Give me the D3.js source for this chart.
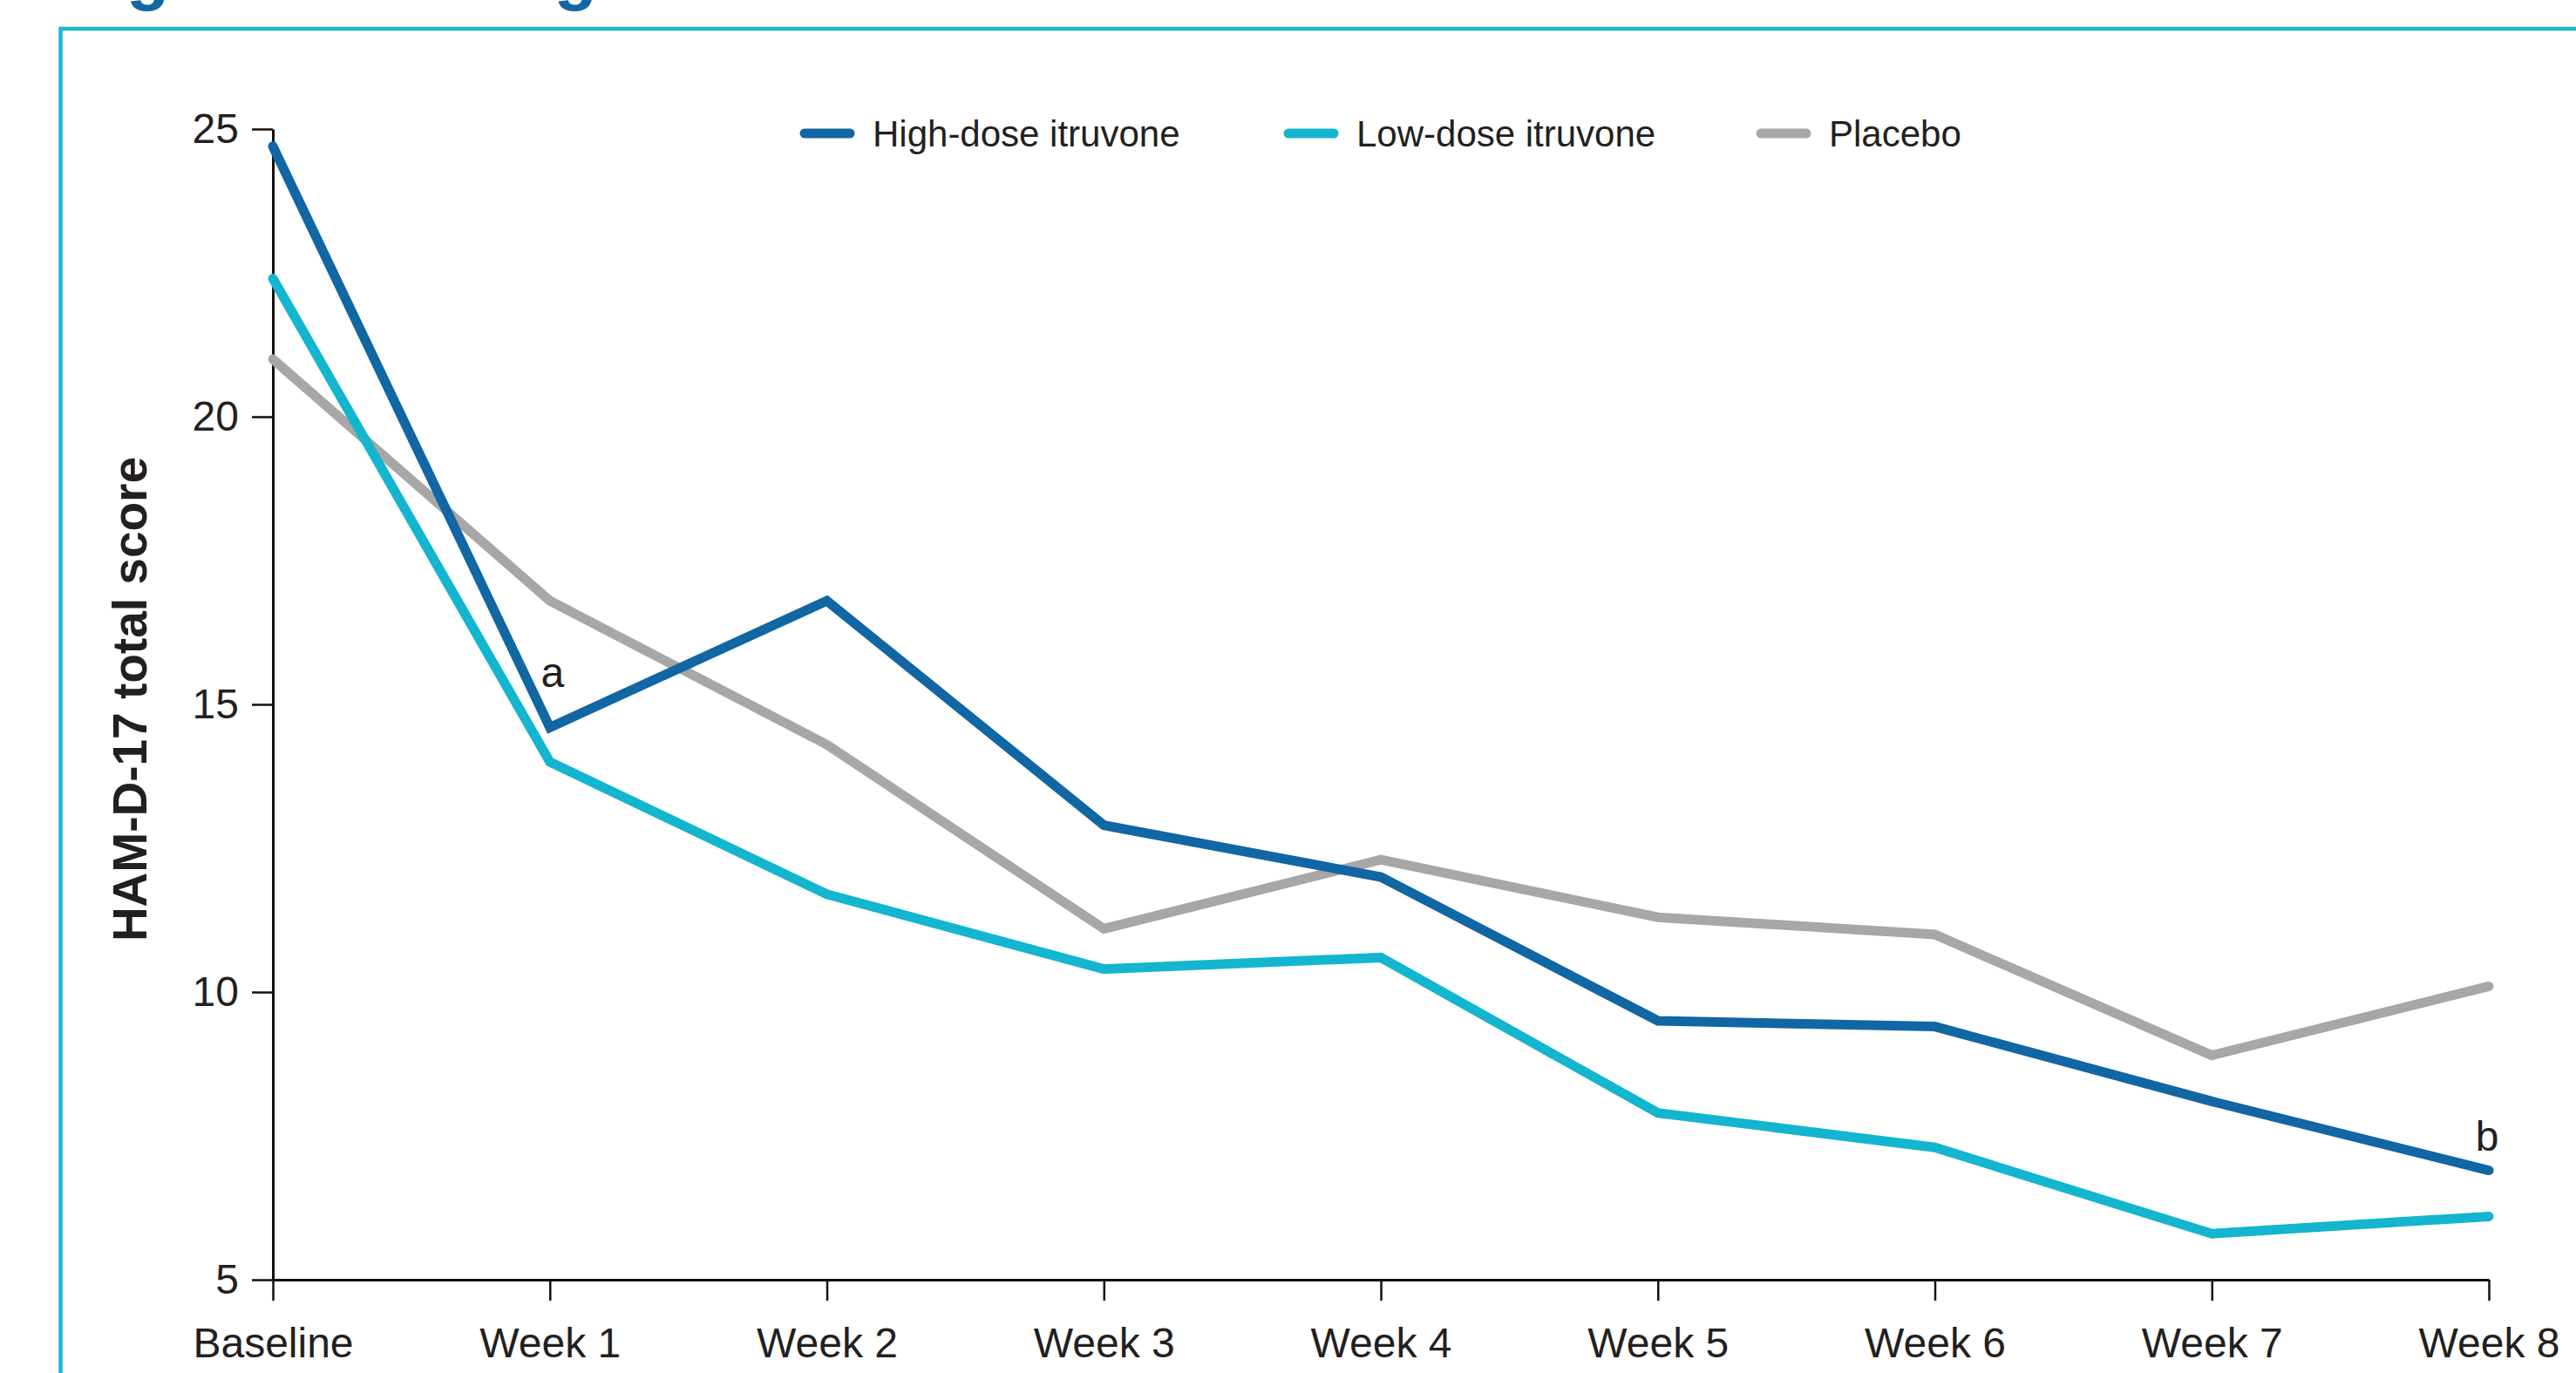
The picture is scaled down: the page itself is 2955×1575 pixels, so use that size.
<!DOCTYPE html>
<html>
<head>
<meta charset="utf-8">
<script src="https://cdn.jsdelivr.net/npm/d3@7/dist/d3.min.js"></script>
<style>
  html, body { margin: 0; padding: 0; background: #ffffff; }
  svg { display: block; }
  text { font-family: "Liberation Sans", Arial, Helvetica, sans-serif; fill: #231f20; }
</style>
</head>
<body>
<svg id="chart" width="2955" height="1575"></svg>
<script>
// Visits along the x axis
const categories = ["Baseline", "Week 1", "Week 2", "Week 3", "Week 4", "Week 5", "Week 6", "Week 7", "Week 8"];

// Mean HAM-D-17 total score per visit
const highDose = [24.7, 14.6, 16.8, 12.9, 12.0, 9.5, 9.4, 8.1, 6.9];
const lowDose  = [22.4, 14.0, 11.7, 10.4, 10.6, 7.9, 7.3, 5.8, 6.1];
const placebo  = [21.0, 16.8, 14.3, 11.1, 12.3, 11.3, 11.0, 8.9, 10.1];

const seriesNames  = ["High-dose itruvone", "Low-dose itruvone", "Placebo"];
const seriesColors = ["#1166a4", "#13b5cf", "#a7a7a7"];
const yTicks = [5, 10, 15, 20, 25];

// Footnote markers attached to points of the high-dose series
const noteLabels  = ["a", "b"];
const noteIndices = [1, 8];

const svg = d3.select("#chart");
const W = 2955, H = 1575;

svg.append("rect").attr("width", W).attr("height", H).attr("fill", "#ffffff");

// Figure heading, mostly running off the top edge
svg.append("text")
  .attr("x", 73).attr("y", -4)
  .style("font-weight", "bold")
  .style("font-size", "81px")
  .style("fill", "#1466a5")
  .text("Figure 1. Change in HAM-D-17 total score");

// Panel frame (top and left rules)
svg.append("path")
  .attr("d", "M69.5," + H + "V33H" + W)
  .attr("fill", "none")
  .attr("stroke", "#1ab5d0")
  .attr("stroke-width", 4.5);

// Scales
const x = d3.scalePoint().domain(categories).range([313, 2855]);
const y = d3.scaleLinear().domain([5, 25]).range([1468, 148]);

// Axes
const yAxis = svg.append("g")
  .attr("transform", "translate(" + x(categories[0]) + ",0)")
  .call(d3.axisLeft(y).tickValues(yTicks).tickSize(24).tickPadding(15).tickSizeOuter(0));

const xAxis = svg.append("g")
  .attr("transform", "translate(0," + y(5) + ")")
  .call(d3.axisBottom(x).tickSize(24).tickPadding(31).tickSizeOuter(0));

[yAxis, xAxis].forEach(g => {
  g.select(".domain").attr("stroke", "#111").attr("stroke-width", 3);
  g.selectAll(".tick line").attr("stroke", "#111").attr("stroke-width", 2.5);
  g.selectAll(".tick text")
    .style("font-family", "\"Liberation Sans\", Arial, sans-serif")
    .style("font-size", "48px")
    .attr("fill", "#231f20");
});

// Y axis title
svg.append("text")
  .attr("transform", "translate(168,802) rotate(-90)")
  .attr("text-anchor", "middle")
  .style("font-weight", "bold")
  .style("font-size", "55px")
  .text("HAM-D-17 total score");

// Series lines (placebo underneath, high dose on top)
const seriesData = [highDose, lowDose, placebo];
const drawOrder = [2, 1, 0];

const line = d3.line()
  .x((d, i) => x(categories[i]))
  .y(d => y(d));

svg.append("g")
  .selectAll("path")
  .data(drawOrder)
  .join("path")
  .attr("d", k => line(seriesData[k]))
  .attr("fill", "none")
  .attr("stroke", k => seriesColors[k])
  .attr("stroke-width", 11)
  .attr("stroke-linecap", "round")
  .attr("stroke-linejoin", "miter");

// Footnote markers
const noteOffsets = [{dx: 3, dy: -46}, {dx: -2, dy: -23}];
svg.append("g")
  .selectAll("text")
  .data(noteLabels)
  .join("text")
  .attr("x", (d, i) => x(categories[noteIndices[i]]) + noteOffsets[i].dx)
  .attr("y", (d, i) => y(highDose[noteIndices[i]]) + noteOffsets[i].dy)
  .attr("text-anchor", "middle")
  .style("font-size", "48px")
  .text(d => d);

// Legend
const legendSwatchX = [918, 1473, 2015];
const legendY = 153;
const legend = svg.append("g")
  .selectAll("g")
  .data(seriesNames)
  .join("g")
  .attr("transform", (d, i) => "translate(" + legendSwatchX[i] + "," + legendY + ")");

legend.append("line")
  .attr("x1", 5).attr("x2", 57)
  .attr("y1", 0).attr("y2", 0)
  .attr("stroke", (d, i) => seriesColors[i])
  .attr("stroke-width", 11)
  .attr("stroke-linecap", "round");

legend.append("text")
  .attr("x", 83)
  .attr("y", 15)
  .style("font-size", "42px")
  .text(d => d);
</script>
</body>
</html>
